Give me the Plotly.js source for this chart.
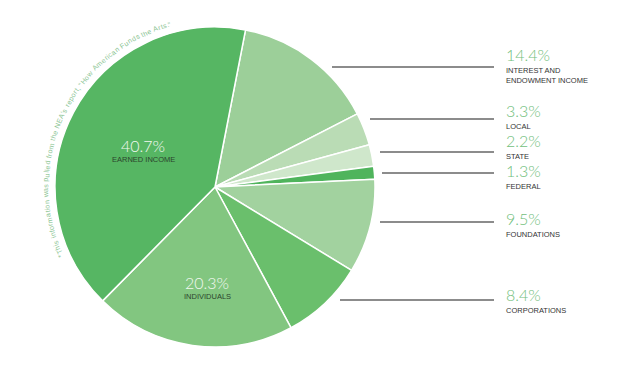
<!DOCTYPE html>
<html>
<head>
<meta charset="utf-8">
<script src="https://cdn.plot.ly/plotly-3.0.1.min.js"></script>
<style>html,body{margin:0;padding:0;background:#fff;}#chart{width:640px;height:369px;}</style>
</head>
<body>
<div id="chart"></div>
<script>
// ---- data ----
const categories = ["Interest and Endowment Income", "Local", "State", "Federal", "Foundations", "Corporations", "Individuals", "Earned Income"];
const shares = [14.4, 3.3, 2.2, 1.3, 9.5, 8.4, 20.3, 40.7];
const displayLabels = ["INTEREST AND<br>ENDOWMENT INCOME", "LOCAL", "STATE", "FEDERAL", "FOUNDATIONS", "CORPORATIONS", "INDIVIDUALS", "EARNED INCOME"];
const note = "*This information was pulled from the NEA\u2019s report, \u201cHow American Funds the Arts.\u201d";

// ---- styles / layout positions (pixels) ----
const sliceColors = ["#9ccf99", "#badcb5", "#cfe7cb", "#4fb45c", "#a2d29f", "#6abf6c", "#82c680", "#56b663"];
const W = 640, H = 369;
const cx = 215, cy = 187, R = 160;
// outside labels: index -> [pctCenterY, lineY, lineStartX]
const outside = {0: [54.5, 67, 332], 1: [111, 119, 370], 2: [140.5, 152, 380], 3: [170.5, 173, 382], 4: [218, 222, 380], 5: [294, 300, 340]};
// inside labels: index -> [centerX, pctCenterY]
const inside = {7: [143, 145], 6: [207, 282]};

const px = x => x / W, py = y => 1 - y / H;
const pctText = v => v.toFixed(1) + "%";

const annotations = [];
const shapes = [];
const pctFont = {family: "Lato, 'Open Sans', sans-serif", size: 16, color: "#72c07c", weight: 300};
const lblFont = {family: "'Liberation Sans', Arial, sans-serif", size: 7.5, color: "#333333"};

Object.keys(outside).forEach(k => {
  const i = +k, [pyc, ly, lx] = outside[k];
  annotations.push({xref: "paper", yref: "paper", x: px(504), y: py(pyc), xanchor: "left", yanchor: "middle", showarrow: false, text: pctText(shares[i]), font: pctFont});
  annotations.push({xref: "paper", yref: "paper", x: px(504), y: py(pyc + 9.5), xanchor: "left", yanchor: "top", showarrow: false, align: "left", text: displayLabels[i], font: lblFont});
  shapes.push({type: "line", xref: "paper", yref: "paper", x0: px(lx), x1: px(494), y0: py(ly), y1: py(ly), line: {color: "#666", width: 1.3}});
});
Object.keys(inside).forEach(k => {
  const i = +k, [x, y] = inside[k];
  annotations.push({xref: "paper", yref: "paper", x: px(x), y: py(y), xanchor: "center", yanchor: "middle", showarrow: false, text: pctText(shares[i]), font: {family: pctFont.family, size: 16, color: "#f2f8f0", weight: 300}});
  annotations.push({xref: "paper", yref: "paper", x: px(x), y: py(y + 14.5), xanchor: "center", yanchor: "middle", showarrow: false, text: displayLabels[i], font: {family: lblFont.family, size: 7.5, color: "#2c452d"}});
});

// curved note along the circle
(function () {
  const fs = 7, fam = "Liberation Sans";
  const ctx = document.createElement("canvas").getContext("2d");
  ctx.font = fs + "px Liberation Sans, Arial, sans-serif";
  const chars = Array.from(note);
  const widths = chars.map(c => Math.max(ctx.measureText(c).width, 1));
  const total = widths.reduce((a, b) => a + b, 0);
  const rr = 169;
  const a0 = 245.5 * Math.PI / 180, a1 = 345 * Math.PI / 180;
  const scale = (a1 - a0) / total;
  let s = 0;
  chars.forEach((c, j) => {
    const w = widths[j];
    const th = a0 + (s + w / 2) * scale;
    s += w;
    if (c === " ") return;
    const x = cx + rr * Math.sin(th), y = cy - rr * Math.cos(th);
    annotations.push({xref: "paper", yref: "paper", x: px(x), y: py(y), xanchor: "center", yanchor: "middle", showarrow: false, borderpad: 0, text: c, textangle: th * 180 / Math.PI - 360, font: {family: fam, size: fs, color: "#8cc594"}});
  });
})();

const trace = {
  type: "pie",
  labels: categories,
  values: shares,
  sort: false,
  direction: "clockwise",
  rotation: 11,
  marker: {colors: sliceColors, line: {color: "#ffffff", width: 1.5}},
  textinfo: "none",
  hoverinfo: "none",
  showlegend: false,
  domain: {x: [px(cx - R), px(cx + R)], y: [py(cy + R), py(cy - R)]}
};

Plotly.newPlot("chart", [trace], {
  width: W, height: H,
  margin: {l: 0, r: 0, t: 0, b: 0},
  paper_bgcolor: "#ffffff",
  showlegend: false,
  annotations: annotations,
  shapes: shapes
}, {displayModeBar: false, staticPlot: true});
</script>
</body>
</html>
